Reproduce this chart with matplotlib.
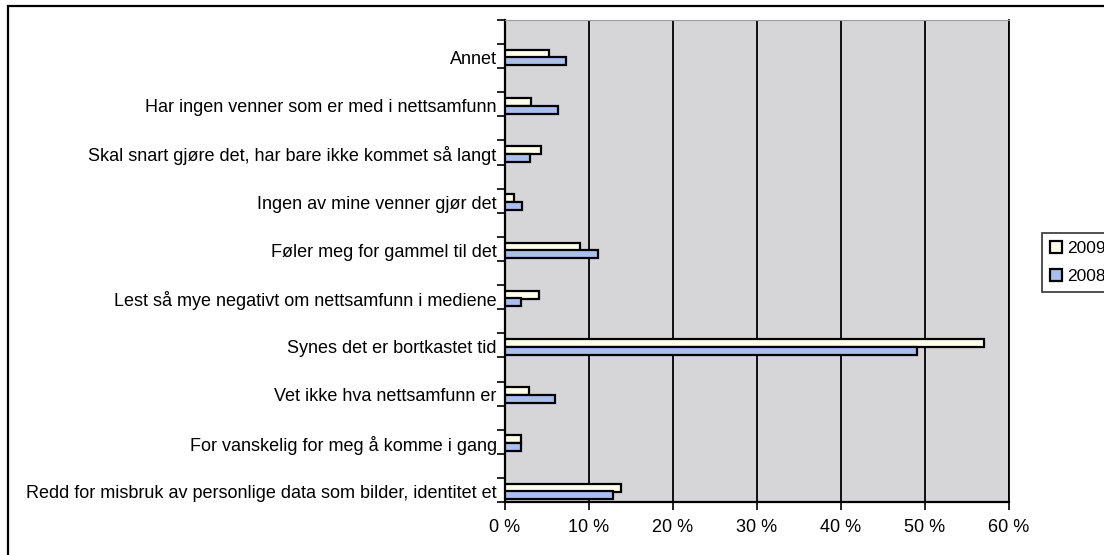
import matplotlib
matplotlib.use("Agg")
import matplotlib.pyplot as plt
import numpy as np
from matplotlib.patches import Rectangle

# categories listed bottom-to-top (as drawn)
categories = [
    "Redd for misbruk av personlige data som bilder, identitet et",
    "For vanskelig for meg å komme i gang",
    "Vet ikke hva nettsamfunn er",
    "Synes det er bortkastet tid",
    "Lest så mye negativt om nettsamfunn i mediene",
    "Føler meg for gammel til det",
    "Ingen av mine venner gjør det",
    "Skal snart gjøre det, har bare ikke kommet så langt",
    "Har ingen venner som er med i nettsamfunn",
    "Annet",
]
values_2009 = [13.8, 1.9, 2.9, 57.0, 4.0, 8.9, 1.1, 4.3, 3.1, 5.2]
values_2008 = [12.9, 1.9, 6.0, 49.0, 1.9, 11.1, 2.0, 3.0, 6.3, 7.3]
series_names = ["2009", "2008"]
xticks = [0, 10, 20, 30, 40, 50, 60]
xtick_labels = ["0 %", "10 %", "20 %", "30 %", "40 %", "50 %", "60 %"]

plt.rcParams['font.family'] = ['Liberation Sans', 'DejaVu Sans']

W, H = 1104, 555
fig = plt.figure(figsize=(W / 100, H / 100), dpi=100)
left, right, top, bottom = 505, 1009, 20, 502
ax = fig.add_axes([left / W, 1 - bottom / H, (right - left) / W, (bottom - top) / H])
ax.set_facecolor("#D6D6D8")

y = np.arange(len(categories))
bh = 0.165
ax.barh(y - 0.2, values_2009, height=bh, color="#FFFFEC", edgecolor="black",
        linewidth=1.6, label=series_names[0], zorder=3)
ax.barh(y - 0.36, values_2008, height=bh, color="#AABFEE", edgecolor="black",
        linewidth=1.6, label=series_names[1], zorder=3)

ax.set_xlim(0, 60)
ax.set_ylim(-0.5, len(categories) - 0.5)
ax.set_xticks(xticks)
ax.set_xticklabels(xtick_labels, fontsize=13)
# labels sit at the bar pair; tick marks every half category
ax.set_yticks(y - 0.28)
ax.set_yticklabels(categories, fontsize=13)
ax.set_yticks(np.arange(-0.5, len(categories), 0.5), minor=True)
ax.tick_params(axis='y', which='major', length=0, pad=6)
ax.tick_params(axis='y', which='minor', direction='out', length=6, width=1.2)
ax.tick_params(axis='x', which='major', direction='out', length=6, width=1.2, pad=6)
ax.xaxis.grid(True, color="black", linewidth=1.3, zorder=1)
ax.set_axisbelow(True)

for s in ["left", "bottom"]:
    ax.spines[s].set_linewidth(1.6)
    ax.spines[s].set_color("black")
ax.spines["right"].set_linewidth(1.3)
ax.spines["top"].set_color("#9A9A9A")
ax.spines["top"].set_linewidth(0.8)

leg = fig.legend(loc="upper left", bbox_to_anchor=(1042 / W, 1 - 233 / H),
                 frameon=True, fancybox=False, edgecolor="black", fontsize=12.5,
                 handlelength=0.7, handleheight=0.7, handletextpad=0.3,
                 borderpad=0.45, borderaxespad=0, labelspacing=0.75)
leg.get_frame().set_linewidth(1.2)

# outer chart border (extends beyond the cropped image on the right and bottom)
fig.patches.append(Rectangle((8 / W, -0.1), 1.2, 1.1 - 6 / H, transform=fig.transFigure,
                             fill=False, edgecolor="black", linewidth=1.6))

fig.savefig("out.png", dpi=100)
